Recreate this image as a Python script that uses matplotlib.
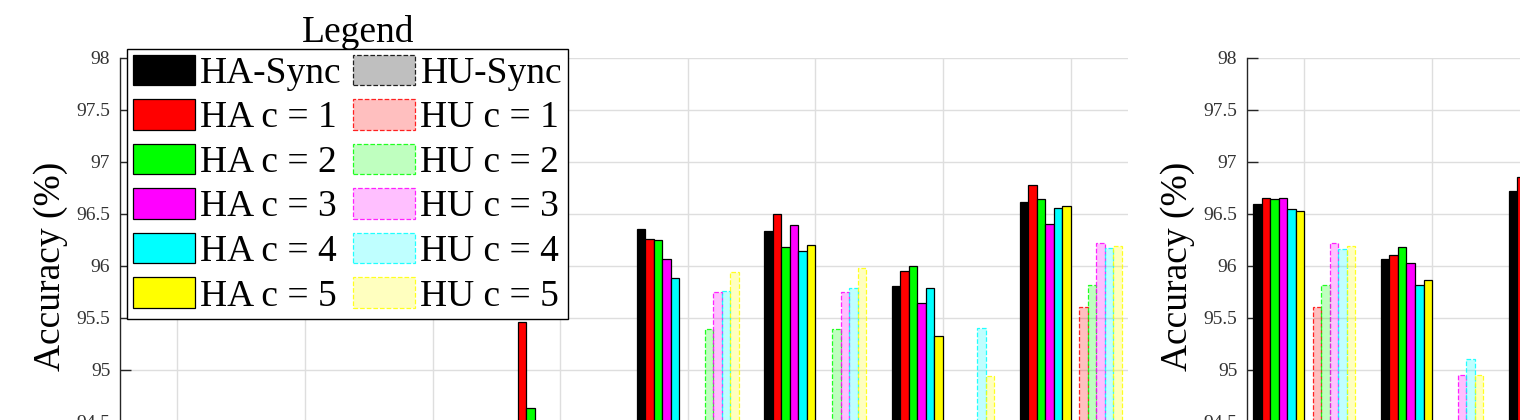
import numpy as np
import matplotlib
matplotlib.use("Agg")
import matplotlib.pyplot as plt
from matplotlib.patches import Patch

plt.rcParams['font.family'] = ['Liberation Serif', 'DejaVu Serif']

# ---------------- data ----------------
series_names = ["HA-Sync", "HA c = 1", "HA c = 2", "HA c = 3", "HA c = 4", "HA c = 5",
                "HU-Sync", "HU c = 1", "HU c = 2", "HU c = 3", "HU c = 4", "HU c = 5"]
base_colors = [(0, 0, 0), (1, 0, 0), (0, 1, 0), (1, 0, 1), (0, 1, 1), (1, 1, 0)]

# left panel: 8 groups (values below ~94.5 are hidden under the crop; estimated)
groups_left = np.arange(1, 9)
left_ha_sync = [94.3, 94.3, 94.3, 94.3, 96.36, 96.34, 95.81, 96.62]
left_ha_c1 = [94.3, 94.3, 94.3, 95.46, 96.26, 96.50, 95.95, 96.78]
left_ha_c2 = [94.3, 94.3, 94.3, 94.63, 96.25, 96.18, 96.00, 96.64]
left_ha_c3 = [94.3, 94.3, 94.3, 94.3, 96.07, 96.39, 95.64, 96.40]
left_ha_c4 = [94.3, 94.3, 94.3, 94.3, 95.88, 96.14, 95.79, 96.56]
left_ha_c5 = [94.3, 94.3, 94.3, 94.3, 94.3, 96.20, 95.33, 96.58]
left_hu_sync = [94.3, 94.3, 94.3, 94.3, 94.3, 94.3, 94.3, 94.3]
left_hu_c1 = [94.3, 94.3, 94.3, 94.3, 94.3, 94.3, 94.3, 95.61]
left_hu_c2 = [94.3, 94.3, 94.3, 94.3, 95.39, 95.39, 94.3, 95.82]
left_hu_c3 = [94.3, 94.3, 94.3, 94.3, 95.75, 95.75, 94.3, 96.22]
left_hu_c4 = [94.3, 94.3, 94.3, 94.3, 95.76, 95.79, 95.40, 96.17]
left_hu_c5 = [94.3, 94.3, 94.3, 94.3, 95.94, 95.98, 94.94, 96.19]

# right panel: only the first groups are inside the crop
groups_right = np.arange(1, 4)
nan = np.nan
right_ha_sync = [96.60, 96.07, 96.72]
right_ha_c1 = [96.65, 96.11, 96.86]
right_ha_c2 = [96.64, 96.18, nan]
right_ha_c3 = [96.65, 96.03, nan]
right_ha_c4 = [96.55, 95.82, nan]
right_ha_c5 = [96.53, 95.87, nan]
right_hu_sync = [94.3, 94.3, nan]
right_hu_c1 = [95.61, 94.3, nan]
right_hu_c2 = [95.82, 94.3, nan]
right_hu_c3 = [96.22, 94.95, nan]
right_hu_c4 = [96.16, 95.11, nan]
right_hu_c5 = [96.19, 94.95, nan]

yticks = [94.5, 95, 95.5, 96, 96.5, 97, 97.5, 98]
ytick_labels = ["94.5", "95", "95.5", "96", "96.5", "97", "97.5", "98"]
ylabel = "Accuracy (%)"

left_series = [left_ha_sync, left_ha_c1, left_ha_c2, left_ha_c3, left_ha_c4, left_ha_c5,
               left_hu_sync, left_hu_c1, left_hu_c2, left_hu_c3, left_hu_c4, left_hu_c5]
right_series = [right_ha_sync, right_ha_c1, right_ha_c2, right_ha_c3, right_ha_c4, right_ha_c5,
                right_hu_sync, right_hu_c1, right_hu_c2, right_hu_c3, right_hu_c4, right_hu_c5]

# ---------------- styling helpers ----------------
def style(i):
    c = base_colors[i % 6]
    if i < 6:
        return dict(facecolor=c, edgecolor='black', linewidth=0.9, linestyle='-')
    return dict(facecolor=(*c, 0.25), edgecolor=(*c, 0.85), linewidth=0.9, linestyle='--')

W, H = 1520, 420
fig = plt.figure(figsize=(W / 100, H / 100), dpi=100)

ax_w = 1008 / W
ax_bottom_px = 474
ax_top_px = 58
ax_h = (ax_bottom_px - ax_top_px) / H
ax_y0 = 1 - ax_bottom_px / H

ax1 = fig.add_axes([120 / W, ax_y0, ax_w, ax_h])
ax2 = fig.add_axes([1247 / W, ax_y0, ax_w, ax_h])

n = 12
group_w = 0.8
bw = group_w / n

def draw(ax, groups, series):
    for i, vals in enumerate(series):
        x = groups - group_w / 2 + (i + 0.5) * bw
        ax.bar(x, vals, width=bw, bottom=0, zorder=3, **style(i))
    ax.set_xlim(0.55, 8.45)
    ax.set_ylim(94, 98)
    ax.set_xticks(np.arange(1, 9))
    ax.set_xticklabels([])
    ax.set_yticks(yticks)
    ax.set_yticklabels(ytick_labels)
    ax.grid(True, color='#dedede', linewidth=1.0, zorder=0)
    ax.set_axisbelow(True)
    for s in ['top', 'right', 'bottom']:
        ax.spines[s].set_visible(False)
    ax.spines['left'].set_color('#262626')
    ax.spines['left'].set_linewidth(1.0)
    ax.tick_params(axis='y', direction='in', length=8, width=1, color='#262626',
                   labelsize=14, labelcolor='#333333', pad=7)
    ax.tick_params(axis='x', length=0)
    ax.set_ylabel(ylabel, fontsize=27, labelpad=6)
    ax.set_facecolor('white')

draw(ax1, groups_left, left_series)
draw(ax2, groups_right, right_series)

handles = [Patch(label=series_names[i], **style(i)) for i in range(n)]
leg = ax1.legend(handles=handles, ncol=2, loc='upper left',
                 bbox_to_anchor=(127 / W, 1 - 49 / H), bbox_transform=fig.transFigure,
                 fontsize=27, frameon=True, fancybox=False, shadow=False, framealpha=1,
                 edgecolor='black', borderpad=0.15, borderaxespad=0,
                 handlelength=1.65, handleheight=0.88, handletextpad=0.15,
                 columnspacing=0.3, labelspacing=0.22)
leg.get_frame().set_linewidth(1.0)
leg.set_zorder(10)

fig.text(358 / W, 1 - 42 / H, "Legend", fontsize=27, ha='center', va='baseline')

fig.savefig("out.png", dpi=100, facecolor='white')
